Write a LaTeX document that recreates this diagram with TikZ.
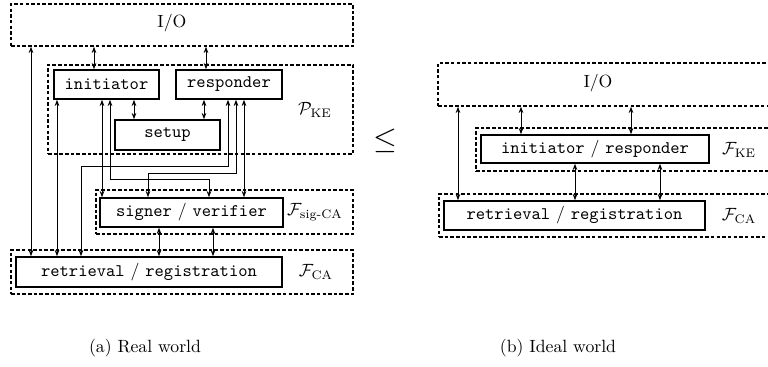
\documentclass[tikz,border=0pt]{standalone}
\usepackage{amsmath}
\usetikzlibrary{arrows.meta}
\begin{document}
\begin{tikzpicture}[x=0.565pt, y=-0.565pt,
  solidbox/.style 2 args={draw, line width=0.9pt, inner sep=0pt,
    minimum width=#1*0.565pt, minimum height=#2*0.565pt},
  zone/.style 2 args={draw, line width=0.9pt, dash pattern=on 2pt off 1.2pt,
    inner sep=0pt, minimum width=#1*0.565pt, minimum height=#2*0.565pt},
  link/.style={line width=0.45pt,
    {Stealth[length=3.5pt,width=2.6pt]}-{Stealth[length=3.5pt,width=2.6pt]}},
  tag/.style={inner sep=0pt}
]
\useasboundingbox (0,0) rectangle (768,367);

% ---------------- real world ----------------
\node[zone={342}{42}] (io1) at (182,25) {};
\node[tag] (io1t) at (172,23) {I/O};

\node[zone={305}{89}] (pke) at (200.5,109.5) {};
\node[tag] (pkel) at (315,110) {$\mathcal{P}_{\mathrm{KE}}$};
\node[solidbox={105}{29}] (init) at (106.5,84.5) {\texttt{initiator}};
\node[solidbox={106}{29}] (resp) at (229,84.5) {\texttt{responder}};
\node[solidbox={105}{30}] (setup) at (167.5,135) {\texttt{setup}};

\node[zone={257}{44}] (sigca) at (224.5,212) {};
\node[tag] (sigcal) at (315,212) {$\mathcal{F}_{\text{sig-CA}}$};
\node[solidbox={183}{29}] (sig) at (191.5,212.5) {\texttt{signer} / \texttt{verifier}};

\node[zone={342}{44}] (fca1) at (182,272) {};
\node[tag] (fca1l) at (316,272) {$\mathcal{F}_{\mathrm{CA}}$};
\node[solidbox={266}{30}] (retr1) at (149,272) {\texttt{retrieval} / \texttt{registration}};

% links of the real world
\draw[link] (31,0 |- io1.south) -- (31,0 |- retr1.north);
\draw[link] (94,0 |- io1.south) -- (94,0 |- init.north);
\draw[link] (206,0 |- io1.south) -- (206,0 |- resp.north);
\draw[link] (134,0 |- init.south) -- (134,0 |- setup.north);
\draw[link] (204,0 |- resp.south) -- (204,0 |- setup.north);
\draw[link] (57,0 |- init.south) -- (57,0 |- retr1.north);
\draw[link] (102,0 |- init.south) -- (102,0 |- sig.north);
\draw[link] (110,0 |- init.south) -- (110,179) -- (209,179) -- (209,0 |- sig.north);
\draw[link] (228,0 |- resp.south) -- (228,166) -- (81,166) -- (81,0 |- retr1.north);
\draw[link] (236,0 |- resp.south) -- (236,173) -- (148,173) -- (148,0 |- sig.north);
\draw[link] (244,0 |- resp.south) -- (244,0 |- sig.north);
\draw[link] (159,0 |- sig.south) -- (159,0 |- retr1.north);
\draw[link] (213,0 |- sig.south) -- (213,0 |- retr1.north);

% ---------------- relation ----------------
\node[tag] (le) at (385,141) {\LARGE$\leq$};

% ---------------- ideal world ----------------
\node[zone={352}{43}] (io2) at (614,84.5) {};
\node[tag] (io2t) at (598,83) {I/O};

\node[zone={314}{43}] (fke) at (633,149.5) {};
\node[tag] (fkel) at (739,150) {$\mathcal{F}_{\mathrm{KE}}$};
\node[solidbox={228}{28}] (ir) at (595,149) {\texttt{initiator} / \texttt{responder}};

\node[zone={351}{43}] (fca2) at (614.5,215.5) {};
\node[tag] (fca2l) at (739,216) {$\mathcal{F}_{\mathrm{CA}}$};
\node[solidbox={261}{29}] (retr2) at (574.5,215.5) {\texttt{retrieval} / \texttt{registration}};

% links of the ideal world
\draw[link] (458,0 |- io2.south) -- (458,0 |- retr2.north);
\draw[link] (521,0 |- io2.south) -- (521,0 |- ir.north);
\draw[link] (631,0 |- io2.south) -- (631,0 |- ir.north);
\draw[link] (575,0 |- ir.south) -- (575,0 |- retr2.north);
\draw[link] (660,0 |- ir.south) -- (660,0 |- retr2.north);

% ---------------- captions ----------------
\node[tag] (capa) at (145,348) {(a) Real world};
\node[tag] (capb) at (558,348) {(b) Ideal world};
\end{tikzpicture}
\end{document}
